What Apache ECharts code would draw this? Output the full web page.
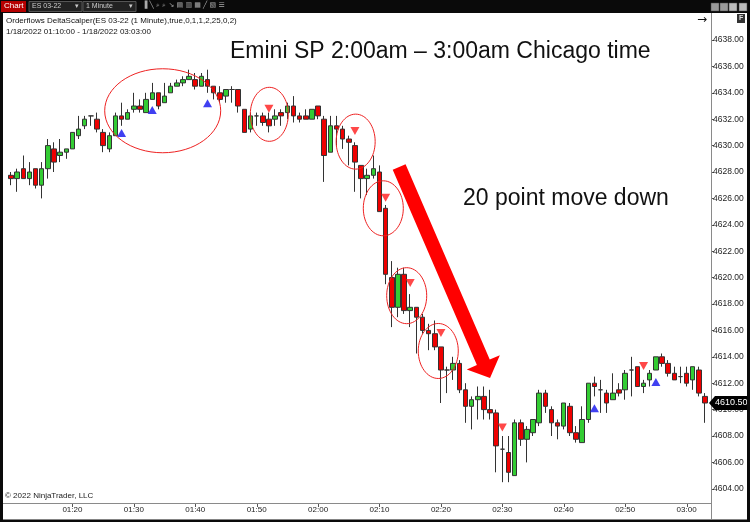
<!DOCTYPE html>
<html><head><meta charset="utf-8">
<script src="https://cdn.jsdelivr.net/npm/echarts@6/dist/echarts.min.js"></script>
<style>html,body{margin:0;padding:0;background:#fff}#c{width:750px;height:522px}</style>
</head><body><div id="c"></div>
<script>
// ---- data ----
const times = ['01:10','01:11','01:12','01:13','01:14','01:15','01:16','01:17','01:18','01:19',
'01:20','01:21','01:22','01:23','01:24','01:25','01:26','01:27','01:28','01:29',
'01:30','01:31','01:32','01:33','01:34','01:35','01:36','01:37','01:38','01:39',
'01:40','01:41','01:42','01:43','01:44','01:45','01:46','01:47','01:48','01:49',
'01:50','01:51','01:52','01:53','01:54','01:55','01:56','01:57','01:58','01:59',
'02:00','02:01','02:02','02:03','02:04','02:05','02:06','02:07','02:08','02:09',
'02:10','02:11','02:12','02:13','02:14','02:15','02:16','02:17','02:18','02:19',
'02:20','02:21','02:22','02:23','02:24','02:25','02:26','02:27','02:28','02:29',
'02:30','02:31','02:32','02:33','02:34','02:35','02:36','02:37','02:38','02:39',
'02:40','02:41','02:42','02:43','02:44','02:45','02:46','02:47','02:48','02:49',
'02:50','02:51','02:52','02:53','02:54','02:55','02:56','02:57','02:58','02:59',
'03:00','03:01','03:02','03:03'];
const opens = [4627.75,4627.5,4628.25,4627.5,4628.25,4627.0,4628.25,4629.75,4629.25,4629.5,
4629.75,4630.75,4631.5,4632.25,4632.0,4631.0,4629.75,4630.75,4632.25,4632.0,
4632.75,4633.0,4632.5,4633.5,4634.0,4633.25,4634.0,4634.5,4634.75,4635.0,
4635.0,4634.5,4635.0,4634.5,4634.0,4633.75,4634.25,4634.25,4632.75,4631.25,
4632.25,4632.25,4632.0,4632.0,4632.5,4632.5,4633.0,4632.25,4632.25,4632.0,
4633.0,4632.0,4629.5,4631.5,4631.25,4630.5,4630.0,4628.5,4627.5,4627.75,
4628.0,4625.25,4620.0,4617.75,4620.25,4617.5,4617.75,4617.0,4616.0,4615.75,
4614.75,4613.0,4613.0,4613.5,4611.5,4610.25,4610.75,4611.0,4610.0,4609.75,
4607.0,4606.75,4605.0,4609.0,4607.75,4608.25,4609.0,4611.25,4610.0,4609.0,
4608.75,4610.25,4608.25,4607.5,4609.25,4612.0,4611.5,4611.25,4610.75,4611.5,
4611.5,4613.0,4613.25,4611.75,4612.25,4613.0,4614.0,4613.5,4612.75,4612.5,
4612.75,4612.25,4613.0,4611.0];
const closes = [4627.5,4628.0,4627.5,4628.0,4627.0,4628.25,4630.0,4628.75,4629.5,4629.75,
4631.0,4631.25,4632.0,4632.25,4631.25,4630.0,4630.75,4632.25,4632.0,4632.5,
4633.0,4632.75,4633.5,4634.0,4633.0,4633.75,4634.5,4634.75,4635.0,4635.25,
4634.5,4635.25,4634.5,4634.0,4633.5,4634.25,4634.25,4633.0,4631.0,4632.25,
4632.25,4631.75,4631.5,4632.25,4632.25,4633.0,4632.25,4632.0,4632.0,4632.75,
4632.25,4629.25,4631.5,4631.25,4630.5,4630.25,4628.75,4627.5,4627.75,4628.25,
4625.0,4620.25,4617.75,4620.25,4617.5,4617.75,4617.0,4616.0,4615.75,4614.75,
4613.0,4613.0,4613.5,4611.5,4610.25,4610.75,4611.0,4610.0,4609.75,4607.25,
4607.0,4605.25,4609.0,4607.75,4608.5,4609.25,4611.25,4610.25,4609.0,4608.75,
4610.5,4608.25,4607.75,4609.25,4612.0,4611.75,4611.5,4610.5,4611.25,4611.25,
4612.75,4613.0,4611.75,4612.0,4612.75,4614.0,4613.5,4612.75,4612.25,4612.5,
4612.0,4613.25,4611.25,4610.5];
const lows = [4627.0,4626.5,4627.5,4627.0,4626.75,4626.0,4627.5,4628.0,4628.75,4629.0,
4629.75,4630.5,4631.25,4631.5,4631.0,4629.5,4629.5,4630.75,4631.5,4632.0,
4632.5,4632.5,4632.5,4633.5,4632.75,4633.25,4634.0,4634.5,4634.5,4635.0,
4634.25,4634.5,4634.0,4633.5,4633.25,4633.25,4633.25,4632.5,4631.0,4631.0,
4631.5,4631.5,4631.0,4631.5,4631.5,4632.0,4631.75,4631.75,4632.0,4632.0,
4632.0,4627.25,4629.5,4630.0,4629.75,4628.5,4626.5,4626.0,4626.25,4627.5,
4625.0,4619.5,4616.25,4617.0,4617.25,4616.25,4614.25,4615.75,4614.5,4614.5,
4610.5,4611.25,4612.25,4611.25,4609.0,4608.5,4609.25,4609.25,4609.25,4605.25,
4604.5,4604.5,4605.0,4607.25,4606.0,4608.0,4608.75,4609.75,4608.0,4607.75,
4608.5,4608.0,4607.5,4607.5,4609.0,4611.0,4609.75,4609.75,4610.75,4611.0,
4610.75,4611.0,4611.75,4611.25,4611.75,4613.0,4613.25,4612.5,4612.25,4612.0,
4611.75,4611.5,4611.0,4609.0];
const highs = [4628.0,4628.25,4629.25,4628.75,4628.25,4628.75,4630.5,4630.25,4630.5,4629.75,
4631.0,4632.25,4632.25,4632.25,4632.5,4631.25,4631.0,4632.5,4633.25,4632.75,
4634.0,4633.5,4634.0,4634.75,4634.0,4634.75,4634.75,4635.0,4635.25,4635.75,
4635.5,4635.5,4635.75,4634.5,4634.5,4634.25,4634.5,4634.25,4632.75,4632.5,
4632.5,4632.5,4632.5,4632.75,4632.75,4633.25,4633.75,4632.5,4632.75,4632.75,
4633.0,4632.25,4632.25,4632.25,4631.5,4630.75,4630.25,4628.5,4628.25,4629.25,
4628.5,4625.5,4621.25,4620.75,4620.75,4618.75,4617.75,4617.25,4616.5,4616.75,
4614.75,4613.25,4614.0,4613.75,4612.0,4611.0,4611.75,4611.75,4611.5,4610.0,
4608.0,4608.0,4609.25,4609.25,4608.75,4609.25,4611.5,4611.5,4610.25,4609.25,
4610.5,4610.5,4608.75,4610.25,4612.0,4612.5,4612.25,4611.5,4612.75,4612.0,
4613.0,4614.0,4613.25,4612.25,4613.0,4614.0,4614.25,4613.75,4613.25,4613.25,
4613.25,4613.25,4613.25,4611.25];
const buySignals = [['01:28',4630.95],['01:33',4632.7],['01:42',4633.2],['02:45',4610.1],['02:55',4612.1]];
const sellSignals = [['01:52',4632.8],['02:06',4631.1],['02:11',4626.05],['02:15',4619.6],['02:20',4615.8],['02:30',4608.65],['02:53',4613.3]];
const yTicks = {min:4602, max:4640, step:2};

// annotations (bar index, price) anchors
const circleAnchors = [[24.7,4632.64,58,42],[42.06,4632.37,19,27],[56.12,4630.30,19.5,27.5],[60.62,4625.25,20,27.5],[64.43,4618.63,20,28],[69.57,4614.44,20,27.5]];
const arrowAnchors = {from:[63.2,4628.38], to:[78.0,4612.4]};
const titleText = 'Emini SP 2:00am \u2013 3:00am Chicago time';
const noteText = '20 point move down';

// ---- chart ----
const FONT = "'Liberation Sans',Arial,sans-serif";
const chart = echarts.init(document.getElementById('c'), null, {renderer:'canvas'});
const candleData = times.map((t,i)=>[opens[i], closes[i], lows[i], highs[i]]);
const showLabel = (i,v)=> i>0 && v.endsWith('0');
chart.setOption({
  animation:false,
  backgroundColor:'#ffffff',
  grid:{left:7.93, right:41.93, top:13.6, bottom:6.8},
  xAxis:{type:'category', data:times, boundaryGap:true,
    axisLine:{show:false}, axisTick:{show:false}, splitLine:{show:false},
    axisLabel:{interval:showLabel, margin:-9, fontSize:8, color:'#222', fontFamily:FONT}},
  yAxis:{type:'value', position:'right', offset:3, min:yTicks.min, max:yTicks.max, interval:yTicks.step,
    axisLine:{show:false}, axisTick:{show:true, length:3, lineStyle:{color:'#555'}}, splitLine:{show:false},
    axisLabel:{margin:2, fontSize:8.5, color:'#222', fontFamily:FONT,
      formatter:v=> (v===yTicks.min||v===yTicks.max)?'':v.toFixed(2)}},
  series:[
    {type:'candlestick', data:candleData, barWidth:5,
      itemStyle:{color:'#33cc33', color0:'#ee0000', borderColor:'#333333', borderColor0:'#333333', borderWidth:1}},
    {type:'scatter', data:buySignals, symbol:'triangle', symbolSize:[9,8], itemStyle:{color:'#1010ee'}, z:5},
    {type:'scatter', data:sellSignals, symbol:'triangle', symbolRotate:180, symbolSize:[9,8], itemStyle:{color:'#ff1a1a'}, z:5}
  ]
});

function toPx(idx, price){
  const i0 = Math.floor(idx), f = idx - i0;
  const a = chart.convertToPixel({gridIndex:0}, [times[i0], price]);
  const b = chart.convertToPixel({gridIndex:0}, [times[Math.min(i0+1, times.length-1)], price]);
  return [a[0] + (b[0]-a[0])*f, a[1]];
}

const g = [];
// chrome: frame and toolbar
g.push({type:'rect', shape:{x:0,y:0,width:750,height:13}, style:{fill:'#0a0a0a'}, z:100});
g.push({type:'rect', shape:{x:1,y:1,width:25,height:11}, style:{fill:'#b50000'}, z:101});
g.push({type:'text', x:4, y:2, style:{text:'Chart', fill:'#fff', font:"8px 'Liberation Sans',Arial"}, z:102});
g.push({type:'rect', shape:{x:29,y:1.5,width:53,height:10}, style:{fill:'#222', stroke:'#555', lineWidth:1}, z:101});
g.push({type:'text', x:32, y:3, style:{text:'ES 03-22', fill:'#ccc', font:"7px 'Liberation Sans',Arial"}, z:102});
g.push({type:'text', x:75, y:2.5, style:{text:'\u25be', fill:'#ccc', font:"7px 'DejaVu Sans'"}, z:102});
g.push({type:'rect', shape:{x:83,y:1.5,width:53,height:10}, style:{fill:'#222', stroke:'#555', lineWidth:1}, z:101});
g.push({type:'text', x:86, y:3, style:{text:'1 Minute', fill:'#ccc', font:"7px 'Liberation Sans',Arial"}, z:102});
g.push({type:'text', x:129, y:2.5, style:{text:'\u25be', fill:'#ccc', font:"7px 'DejaVu Sans'"}, z:102});
g.push({type:'text', x:142, y:2, style:{text:'\u2590 \u2572 \u2315 \u2315 \u2198 \u25a4 \u25a5 \u25a6 \u2571 \u25a7 \u2630', fill:'#aaa', font:"7px 'DejaVu Sans'"}, z:102});
[711,720,729,739].forEach((x,k)=>g.push({type:'rect', shape:{x:x,y:3,width:8,height:8}, style:{fill:k<2?'#9a9a9a':'#bbb', stroke:'#444', lineWidth:0.5}, z:101}));
g.push({type:'rect', shape:{x:0,y:13,width:3,height:509}, style:{fill:'#0a0a0a'}, z:100});
g.push({type:'rect', shape:{x:747,y:13,width:3,height:509}, style:{fill:'#0a0a0a'}, z:100});
g.push({type:'rect', shape:{x:0,y:519.5,width:750,height:3}, style:{fill:'#0a0a0a'}, z:100});
// mask the hidden extreme y ticks
g.push({type:'rect', shape:{x:712,y:505,width:34,height:14}, style:{fill:'#fff'}, z:90});
g.push({type:'rect', shape:{x:712,y:13,width:20,height:3}, style:{fill:'#fff'}, z:90});
g.push({type:'line', shape:{x1:711.5,y1:13,x2:711.5,y2:519}, style:{stroke:'#8a8a8a', lineWidth:1}, z:95});
g.push({type:'line', shape:{x1:3,y1:503.5,x2:711,y2:503.5}, style:{stroke:'#8a8a8a', lineWidth:1}, z:95});
g.push({type:'rect', shape:{x:737,y:14,width:8,height:9}, style:{fill:'#333'}, z:60});
g.push({type:'text', x:739, y:15, style:{text:'F', fill:'#ddd', font:"bold 7px 'Liberation Sans',Arial"}, z:61});
// x ticks above time labels
times.forEach((t,i)=>{ if(showLabel(i,t)){ const p = chart.convertToPixel({gridIndex:0},[t, yTicks.min]); const x=Math.round(p[0])+0.5;
  g.push({type:'line', shape:{x1:x,y1:504,x2:x,y2:507}, style:{stroke:'#555', lineWidth:1}, z:95}); }});
// header texts
g.push({type:'text', x:6, y:16.5, style:{text:'Orderflows DeltaScalper(ES 03-22 (1 Minute),true,0,1,1,2,25,0,2)', fill:'#111', font:"8px "+FONT}, z:60});
g.push({type:'text', x:6, y:27.5, style:{text:'1/18/2022 01:10:00 - 1/18/2022 03:03:00', fill:'#111', font:"8px "+FONT}, z:60});
g.push({type:'text', x:697, y:14, style:{text:'\u2192', fill:'#111', font:"12px 'DejaVu Sans'"}, z:60});
g.push({type:'text', x:5, y:491.5, style:{text:'\u00a9 2022 NinjaTrader, LLC', fill:'#222', font:"8px "+FONT}, z:60});
// annotations
g.push({type:'text', x:230, y:52, style:{text:titleText, fill:'#111', font:"23px 'Liberation Sans',Arial,sans-serif", textVerticalAlign:'middle'}, z:60});
g.push({type:'text', x:463, y:199, style:{text:noteText, fill:'#111', font:"23px 'Liberation Sans',Arial,sans-serif", textVerticalAlign:'middle'}, z:60});
circleAnchors.forEach(c=>{
  const p = toPx(c[0], c[1]);
  g.push({type:'ellipse', shape:{cx:p[0], cy:p[1], rx:c[2], ry:c[3]}, style:{fill:null, stroke:'#ee2222', lineWidth:1}, z:40});
});
(function(){
  const s = toPx(arrowAnchors.from[0], arrowAnchors.from[1]);
  const t = toPx(arrowAnchors.to[0], arrowAnchors.to[1]);
  const dx=t[0]-s[0], dy=t[1]-s[1], L=Math.hypot(dx,dy);
  const ux=dx/L, uy=dy/L, nx=-uy, ny=ux;
  const hw=7, headL=17, headW=18;
  const bx=t[0]-ux*headL, by=t[1]-uy*headL;
  const pts=[[s[0]+nx*hw,s[1]+ny*hw],[bx+nx*hw,by+ny*hw],[bx+nx*headW,by+ny*headW],[t[0],t[1]],[bx-nx*headW,by-ny*headW],[bx-nx*hw,by-ny*hw],[s[0]-nx*hw,s[1]-ny*hw]];
  g.push({type:'polygon', shape:{points:pts}, style:{fill:'#ff0000'}, z:45});
})();
// last price tag
(function(){
  const last = closes[closes.length-1];
  const p = chart.convertToPixel({gridIndex:0}, [times[times.length-1], last]);
  const y = p[1];
  g.push({type:'polygon', shape:{points:[[709,y],[715,y-7],[747,y-7],[747,y+7],[715,y+7]]}, style:{fill:'#000'}, z:96});
  g.push({type:'text', x:715, y:y, style:{text:last.toFixed(2), fill:'#fff', font:"9px "+FONT, textVerticalAlign:'middle'}, z:97});
})();
chart.setOption({graphic:g});
</script></body></html>
